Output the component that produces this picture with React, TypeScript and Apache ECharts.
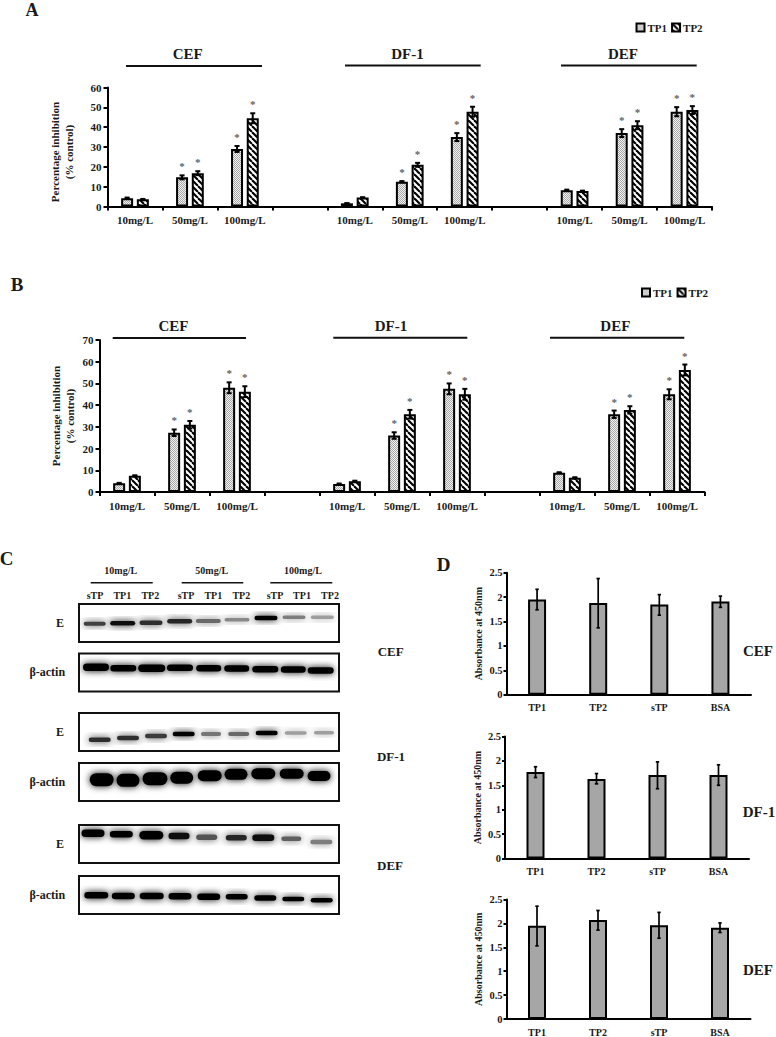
import React, { useEffect, useRef } from "react";
import * as echarts from "echarts";

// ---------- Panels A, B ----------
const doseCategories = ["10mg/L", "50mg/L", "100mg/L", "", "10mg/L", "50mg/L", "100mg/L", "", "10mg/L", "50mg/L", "100mg/L"];
const aTP1 = [4.2, 14.7, 29, null, 1.6, 12.5, 35, null, 8.2, 37, 47.8];
const aTP2 = [3.6, 16.8, 44.5, null, 4.5, 21, 47.8, null, 7.8, 41, 48.6];
const aTP1Err = [0.3, 1, 1.5, 0, 0.1, 0.3, 2, 0, 0.3, 2, 2.3];
const aTP2Err = [0.2, 1, 2.5, 0, 0.2, 1, 2.5, 0, 0.2, 2, 2];
const bTP1 = [4, 27.3, 48, null, 3.7, 26, 47.5, null, 8.9, 35.8, 45];
const bTP2 = [7.5, 31, 46.2, null, 5, 35.8, 45, null, 6.6, 37.8, 56.2];
const bTP1Err = [0.2, 1.5, 2.5, 0, 0.2, 1.5, 2.5, 0, 0.2, 1.7, 2.3];
const bTP2Err = [0.2, 1.7, 2.5, 0, 0.2, 2, 2.5, 0, 0.2, 1.7, 2.5];
const significant = [0, 1, 1, 0, 0, 1, 1, 0, 0, 1, 1];

// ---------- Panel D ----------
const absCategories = ["TP1", "TP2", "sTP", "BSA"];
const dCef = [1.95, 1.88, 1.85, 1.91];
const dCefErrUp = [0.21, 0.5, 0.2, 0.11];
const dCefErrDown = [0.21, 0.51, 0.22, 0.12];
const dDf1 = [1.77, 1.63, 1.71, 1.71];
const dDf1ErrUp = [0.11, 0.11, 0.27, 0.21];
const dDf1ErrDown = [0.11, 0.1, 0.28, 0.21];
const dDef = [1.95, 2.07, 1.96, 1.91];
const dDefErrUp = [0.41, 0.2, 0.27, 0.1];
const dDefErrDown = [0.42, 0.21, 0.27, 0.1];

// ---------- Panel C: band intensity per lane (0-1) ----------
const cefEIntensity = [0.7, 0.92, 0.78, 0.82, 0.5, 0.35, 1, 0.4, 0.25];
const cefActinIntensity = [1, 1, 1, 1, 1, 1, 1, 1, 1];
const df1EIntensity = [0.78, 0.78, 0.72, 1, 0.45, 0.5, 1, 0.25, 0.25];
const df1ActinIntensity = [1, 1, 1, 1, 1, 1, 1, 1, 1];
const defEIntensity = [1, 1, 1, 0.95, 0.6, 0.82, 0.95, 0.55, 0.4];
const defActinIntensity = [1, 1, 1, 1, 1, 1, 1, 1, 1];
const laneLabels = ["sTP", "TP1", "TP2", "sTP", "TP1", "TP2", "sTP", "TP1", "TP2"];

// Band placement inside each blot frame
const blots = [
  { top: 604, intensity: cefEIntensity,
    x: [15.7, 43.7, 72, 100.7, 129.3, 158, 187, 215, 243.3], y: [19.7, 19.3, 18.7, 17.3, 17, 15.7, 14, 13.3, 13.3],
    w: [21, 24, 22, 24, 24, 24, 22, 22, 22], h: [3, 3.5, 3.5, 3.5, 3, 2.5, 3.5, 2.5, 2.5] },
  { top: 653.5, intensity: cefActinIntensity,
    x: [17, 44.3, 72.7, 101, 129.7, 157.7, 186.3, 214.3, 241.7], y: [13.7, 14.7, 14.7, 14.3, 14.7, 15, 15.7, 16, 17],
    w: [25, 25, 26, 25, 24, 24, 25, 24, 25], h: [6.5, 5.5, 6.5, 5.5, 5.5, 5.5, 5.5, 5.5, 5.5] },
  { top: 713, intensity: df1EIntensity,
    x: [20.7, 49, 77, 104.7, 132, 159.7, 187.7, 216.7, 245], y: [26.7, 25, 23, 21, 21, 21, 20, 20, 19.7],
    w: [21, 21, 21, 21, 19, 20, 21, 21, 19], h: [3.5, 3.5, 3.5, 3.5, 3, 3, 3.5, 2.5, 2.5] },
  { top: 763, intensity: df1ActinIntensity,
    x: [22.7, 49, 76, 102.7, 130.7, 157, 184.3, 212.7, 240], y: [16.7, 17.3, 15.7, 14.7, 12.7, 11.3, 10.7, 10.7, 13],
    w: [23, 22, 24, 22, 23, 22, 23, 23, 22], h: [12, 12, 12, 11, 10, 10, 10, 9, 9] },
  { top: 825, intensity: defEIntensity,
    x: [14, 42.3, 72.3, 100, 127.7, 157.3, 184.3, 212.3, 242.3], y: [8.3, 9.3, 10.3, 11, 12.3, 12.7, 12.7, 13.7, 17],
    w: [22, 22, 23, 20, 20, 20, 21, 19, 21], h: [6.5, 5.5, 7.5, 5.5, 4.5, 4.5, 5.5, 3.5, 3.5] },
  { top: 876, intensity: defActinIntensity,
    x: [17.3, 44.3, 72.7, 101, 129.7, 157.7, 186.3, 214.3, 242.7], y: [19.3, 20, 20, 20.3, 20.7, 20.7, 22, 23, 24.3],
    w: [23, 22, 23, 22, 22, 21, 21, 21, 21], h: [5.5, 5.5, 5.5, 5.5, 5.5, 4.5, 4.5, 3.5, 3.5] },
];

const SERIF = '"Liberation Serif", "Times New Roman", serif';
const INK = "#1a1a1a";

function makeStipple() {
  const c = document.createElement("canvas");
  c.width = 2; c.height = 2;
  const g = c.getContext("2d")!;
  g.fillStyle = "#f2f2f2"; g.fillRect(0, 0, 2, 2);
  g.fillStyle = "#a8a8a8"; g.fillRect(0, 0, 1, 1); g.fillRect(1, 1, 1, 1);
  return { image: c, repeat: "repeat", imageWidth: 2, imageHeight: 2 };
}
function makeStripes() {
  const s = 6;
  const c = document.createElement("canvas");
  c.width = s; c.height = s;
  const g = c.getContext("2d")!;
  g.fillStyle = "#fff"; g.fillRect(0, 0, s, s);
  g.strokeStyle = "#000"; g.lineWidth = 2.1;
  for (const d of [-s, 0, s]) {
    g.beginPath(); g.moveTo(d, 0); g.lineTo(d + s, s); g.stroke();
  }
  return { image: c, repeat: "repeat", imageWidth: s, imageHeight: s };
}

function errorRender(offset: number, cap: number, lw: number) {
  return (_p: any, api: any) => {
    const i = api.value(0);
    const v = api.value(1);
    const up = api.value(2);
    const down = api.value(3);
    const top = api.coord([i, v + up]);
    const bottom = api.coord([i, v - down]);
    const x = top[0] + offset;
    const st = { stroke: "#000", lineWidth: lw };
    return {
      type: "group",
      children: [
        { type: "line", shape: { x1: x, y1: top[1], x2: x, y2: bottom[1] }, style: st },
        { type: "line", shape: { x1: x - cap, y1: top[1], x2: x + cap, y2: top[1] }, style: st },
        { type: "line", shape: { x1: x - cap, y1: bottom[1], x2: x + cap, y2: bottom[1] }, style: st },
      ],
    };
  };
}

function bandRender(_p: any, api: any) {
  const c = api.coord([api.value(0), api.value(1)]);
  const s = api.size([api.value(2) + 1, api.value(3) + 1]);
  const k = api.value(4);
  const g = Math.round(210 * (1 - k));
  const col = `rgb(${g},${g},${g})`;
  return {
    type: "rect",
    shape: { x: c[0] - s[0] / 2, y: c[1] - s[1] / 2, width: s[0], height: s[1], r: s[1] / 2 },
    style: { fill: col, shadowBlur: 7, shadowColor: col },
  };
}

export default function App() {
  const ref = useRef<HTMLDivElement>(null);
  useEffect(() => {
    const chart = echarts.init(ref.current!, undefined, { renderer: "svg" });
    const stipple = makeStipple();
    const stripes = makeStripes();
    const grids: any[] = [];
    const xAxes: any[] = [];
    const yAxes: any[] = [];
    const series: any[] = [];

    const addDose = (left: number, top: number, width: number, height: number, max: number, nameGap: number, namePad: number[], tp1: any[], tp2: any[], e1: number[], e2: number[]) => {
      const idx = grids.length;
      grids.push({ left, top, width, height });
      xAxes.push({
        type: "category", gridIndex: idx, data: doseCategories,
        axisLine: { lineStyle: { color: "#000", width: 2 } },
        axisTick: { show: true, length: 4, lineStyle: { color: "#000", width: 2 } },
        axisLabel: { interval: 0, margin: 8, color: INK, fontFamily: SERIF, fontWeight: "bold", fontSize: 11 },
      });
      yAxes.push({
        type: "value", gridIndex: idx, min: 0, max, interval: 10,
        name: "Percentage inhibition\n(% control)", nameLocation: "middle", nameGap, nameMoveOverlap: false,
        nameTextStyle: { color: INK, fontFamily: SERIF, fontWeight: "bold", fontSize: 11, lineHeight: 14, padding: namePad },
        splitLine: { show: false },
        axisLine: { show: true, lineStyle: { color: "#000", width: 2 } },
        axisTick: { show: true, length: 4, lineStyle: { color: "#000", width: 2 } },
        axisLabel: { margin: 6, color: INK, fontFamily: SERIF, fontWeight: "bold", fontSize: 11 },
      });
      const bar = (name: string, data: any[], fill: any) => ({
        type: "bar", name, xAxisIndex: idx, yAxisIndex: idx, data, barWidth: 12, barGap: "31%",
        itemStyle: { color: fill, borderColor: "#000", borderWidth: 2 },
      });
      series.push(bar("TP1", tp1, stipple), bar("TP2", tp2, stripes));
      const err = (vals: any[], e: number[], offset: number) => ({
        type: "custom", xAxisIndex: idx, yAxisIndex: idx, z: 5, clip: false,
        encode: { x: 0, y: 1 }, renderItem: errorRender(offset, 2.5, 2),
        data: vals.map((v, i) => [i, v, e[i], e[i]]).filter((r) => r[1] != null),
      });
      const stars = (vals: any[], e: number[], offset: number) => ({
        type: "scatter", xAxisIndex: idx, yAxisIndex: idx, z: 6, symbol: "circle", symbolSize: 1, silent: true,
        itemStyle: { color: "transparent" },
        data: vals.map((v, i) => [i, v == null ? null : v + e[i]]).filter((r, i) => significant[i] && r[1] != null),
        label: { show: true, position: "top", distance: 3, offset: [offset, 0], formatter: "*", color: "#333", fontFamily: SERIF, fontWeight: "bold", fontSize: 11 },
      });
      series.push(err(tp1, e1, -7.85), err(tp2, e2, 7.85), stars(tp1, e1, -7.85), stars(tp2, e2, 7.85));
    };
    addDose(107.5, 87.5, 604.5, 119, 60, 32, [0, 10, 0, 0], aTP1, aTP2, aTP1Err, aTP2Err);
    addDose(99.5, 340, 605, 152, 70, 23, [0, 0, 0, 0], bTP1, bTP2, bTP1Err, bTP2Err);

    const addAbs = (left: number, top: number, width: number, vals: number[], up: number[], down: number[]) => {
      const idx = grids.length;
      grids.push({ left, top, width, height: 122 });
      xAxes.push({
        type: "category", gridIndex: idx, data: absCategories,
        axisLine: { lineStyle: { color: "#000", width: 2 } }, axisTick: { show: false },
        axisLabel: { interval: 0, margin: 8, color: INK, fontFamily: SERIF, fontWeight: "bold", fontSize: 10 },
      });
      yAxes.push({
        type: "value", gridIndex: idx, min: 0, max: 2.5, interval: 0.5,
        name: "Absorbance at 450nm", nameLocation: "middle", nameGap: 23, nameMoveOverlap: false,
        nameTextStyle: { color: INK, fontFamily: SERIF, fontWeight: "bold", fontSize: 10 },
        splitLine: { show: false },
        axisLine: { show: true, lineStyle: { color: "#000", width: 2 } },
        axisTick: { show: true, length: 3, lineStyle: { color: "#000", width: 2 } },
        axisLabel: { margin: 4, color: INK, fontFamily: SERIF, fontWeight: "bold", fontSize: 10.5 },
      });
      series.push({
        type: "bar", name: "Absorbance", xAxisIndex: idx, yAxisIndex: idx, data: vals, barWidth: 18,
        itemStyle: { color: "#a6a6a6", borderColor: "#000", borderWidth: 2 },
      });
      series.push({
        type: "custom", xAxisIndex: idx, yAxisIndex: idx, z: 5, clip: false,
        encode: { x: 0, y: 1 }, renderItem: errorRender(0, 1.7, 1.7),
        data: vals.map((v, i) => [i, v, up[i], down[i]]),
      });
    };
    addAbs(506.5, 572.7, 244.5, dCef, dCefErrUp, dCefErrDown);
    addAbs(505, 736.5, 244, dDf1, dDf1ErrUp, dDf1ErrDown);
    addAbs(506.5, 899.5, 244, dDef, dDefErrUp, dDefErrDown);

    blots.forEach((b) => {
      const idx = grids.length;
      grids.push({ left: 79, top: b.top, width: 260, height: 38, show: true, borderColor: "#111", borderWidth: 2, backgroundColor: "#fff" });
      xAxes.push({ type: "value", gridIndex: idx, min: 0, max: 260, show: false });
      yAxes.push({ type: "value", gridIndex: idx, min: 0, max: 38, inverse: true, show: false, splitLine: { show: false } });
      series.push({
        type: "custom", xAxisIndex: idx, yAxisIndex: idx, clip: true,
        encode: { x: 0, y: 1 }, renderItem: bandRender,
        data: b.x.map((x, i) => [x, b.y[i], b.w[i], b.h[i], b.intensity[i]]),
      });
    });

    const text = (t: string, x: number, y: number, size: number) => ({
      type: "text", x, y,
      style: { text: t, fill: INK, font: `bold ${size}px ${SERIF}`, textAlign: "center", textVerticalAlign: "middle" },
    });
    const rule = (x1: number, x2: number, y: number, lw = 2) => ({
      type: "line", shape: { x1, y1: y, x2, y2: y }, style: { stroke: "#111", lineWidth: lw },
    });
    const graphic: any[] = [
      text("A", 32, 10, 18), text("B", 17, 284, 19), text("C", 6.5, 558, 19), text("D", 443.5, 564, 19),
      text("CEF", 187.7, 53.5, 15), rule(126, 262, 66),
      text("DF-1", 407.5, 53.5, 15), rule(345, 480.7, 65.5),
      text("DEF", 623, 53.5, 15), rule(561, 696.7, 65.5),
      text("CEF", 173.5, 326, 15), rule(112.7, 246, 338),
      text("DF-1", 391, 326, 15), rule(333.3, 467.3, 337.7),
      text("DEF", 615.3, 326, 15), rule(550, 684.3, 337.7),
      text("10mg/L", 120.7, 570, 10), rule(90.7, 152.7, 582.7, 1.5),
      text("50mg/L", 211.7, 570, 10), rule(181.7, 243.3, 582.7, 1.5),
      text("100mg/L", 303, 570, 10), rule(270.3, 332.3, 582.7, 1.5),
      ...laneLabels.map((l, i) => text(l, [95, 122.3, 150.3, 186, 213.3, 241.3, 275, 302, 330][i], 595.7, 10)),
      text("E", 60, 622.7, 12), text("β-actin", 47.3, 672.3, 12),
      text("E", 60, 732, 12), text("β-actin", 47.3, 782.3, 12),
      text("E", 60, 844, 12), text("β-actin", 47.3, 895, 12),
      text("CEF", 390.7, 651, 13), text("DF-1", 391, 756.7, 13), text("DEF", 390, 865, 13),
      text("CEF", 758, 650.7, 15), text("DF-1", 759, 812, 15), text("DEF", 758, 970, 15),
    ];

    const legend = (left: number, top: number) => ({
      left, top, orient: "horizontal", data: ["TP1", "TP2"], icon: "rect",
      itemWidth: 8, itemHeight: 8, itemGap: 4, padding: 0,
      selectedMode: false,
      textStyle: { color: INK, fontFamily: SERIF, fontWeight: "bold", fontSize: 11, padding: [0, 0, 0, -2] },
    });

    chart.setOption({
      animation: false,
      backgroundColor: "#fff",
      grid: grids,
      xAxis: xAxes,
      yAxis: yAxes,
      legend: [legend(635.5, 22), legend(641, 287)],
      series,
      graphic,
    });
    return () => chart.dispose();
  }, []);
  return <div ref={ref} style={{ position: "fixed", left: 0, top: 0, width: 776, height: 1037 }} />;
}
